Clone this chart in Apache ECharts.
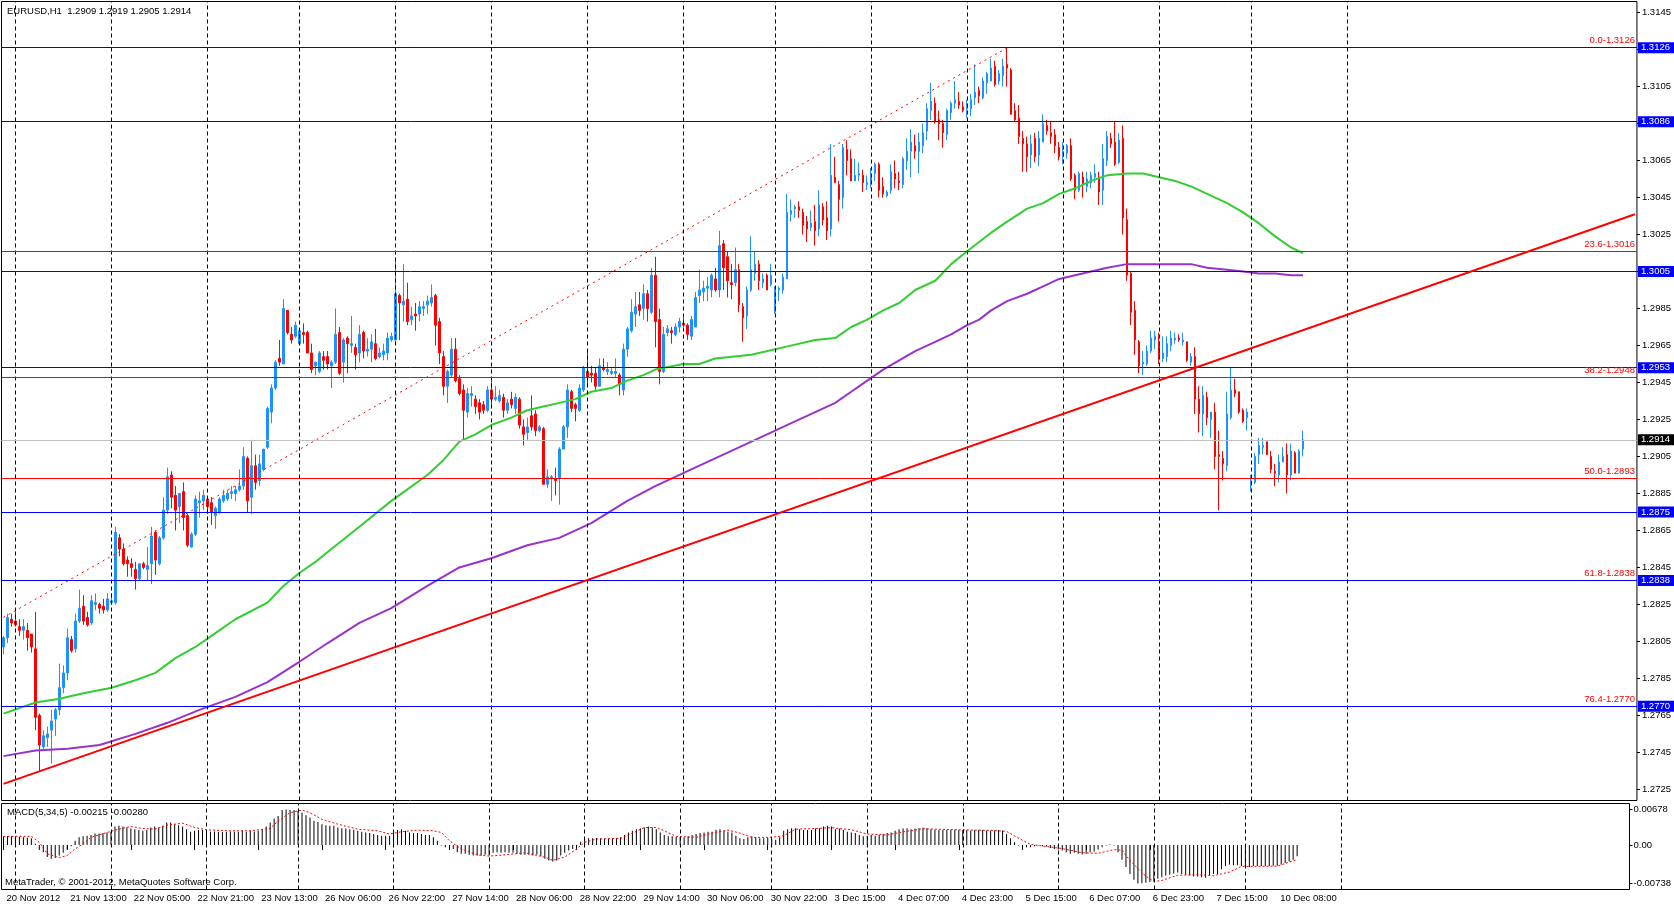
<!DOCTYPE html>
<html>
<head>
<meta charset="utf-8">
<title>EURUSD,H1</title>
<script src="https://cdn.jsdelivr.net/npm/echarts/dist/echarts.min.js"></script>
<style>
  html, body { margin: 0; padding: 0; background: #fff; }
  #chart { width: 1674px; height: 906px; }
</style>
</head>
<body>
<div id="chart"></div>
<script>
// trading days shown on the chart: [day, first hour, last hour]
var days = [
  ['20 Nov', 21, 23], ['21 Nov', 0, 23], ['22 Nov', 0, 23], ['23 Nov', 0, 22],
  ['26 Nov', 0, 23], ['27 Nov', 0, 23], ['28 Nov', 0, 23], ['29 Nov', 0, 23], ['30 Nov', 0, 22],
  ['3 Dec', 0, 23], ['4 Dec', 0, 23], ['5 Dec', 0, 23], ['6 Dec', 0, 23], ['7 Dec', 0, 22],
  ['10 Dec', 0, 23], ['11 Dec', 0, 23], ['12 Dec', 0, 23], ['13 Dec', 0, 23], ['14 Dec', 0, 0]
];
var lastGridDay = '11 Dec';
var firstLabel = '20 Nov 2012';

// hourly bars: [open, high, low, close]
var ohlc = [
  [1.2802,1.2808,1.2798,1.2807],[1.2807,1.2820,1.2804,1.2818],[1.2817,1.2820,1.2813,1.2815],[1.2816,1.2821,1.2813,1.2814],
  [1.2813,1.2817,1.2808,1.2811],[1.2811,1.2817,1.2806,1.2813],[1.2811,1.2815,1.2800,1.2807],[1.2809,1.2809,1.2799,1.2802],
  [1.2801,1.2821,1.2757,1.2764],[1.2765,1.2766,1.2735,1.2749],[1.2748,1.2757,1.2746,1.2754],[1.2753,1.2759,1.2748,1.2755],
  [1.2757,1.2768,1.2739,1.2762],[1.2763,1.2769,1.2754,1.2768],[1.2768,1.2793,1.2765,1.2780],[1.2780,1.2792,1.2777,1.2788],
  [1.2788,1.2812,1.2784,1.2807],[1.2806,1.2808,1.2799,1.2800],[1.2801,1.2820,1.2799,1.2816],[1.2816,1.2833,1.2815,1.2823],
  [1.2824,1.2830,1.2814,1.2816],[1.2818,1.2821,1.2813,1.2814],[1.2815,1.2830,1.2814,1.2827],[1.2825,1.2831,1.2822,1.2826],
  [1.2825,1.2826,1.2820,1.2823],[1.2824,1.2828,1.2820,1.2822],[1.2822,1.2831,1.2821,1.2828],[1.2826,1.2831,1.2825,1.2827],
  [1.2826,1.2867,1.2825,1.2864],[1.2861,1.2863,1.2851,1.2855],[1.2855,1.2858,1.2846,1.2847],[1.2849,1.2851,1.2840,1.2847],
  [1.2847,1.2850,1.2840,1.2845],[1.2844,1.2848,1.2833,1.2839],[1.2839,1.2847,1.2838,1.2847],[1.2847,1.2848,1.2844,1.2845],
  [1.2844,1.2856,1.2838,1.2846],[1.2847,1.2867,1.2836,1.2862],[1.2864,1.2865,1.2841,1.2849],[1.2847,1.2862,1.2846,1.2861],
  [1.2861,1.2883,1.2860,1.2876],[1.2876,1.2899,1.2874,1.2894],[1.2895,1.2897,1.2877,1.2883],[1.2884,1.2889,1.2865,1.2876],
  [1.2878,1.2885,1.2869,1.2885],[1.2886,1.2891,1.2865,1.2872],[1.2873,1.2874,1.2856,1.2857],[1.2856,1.2864,1.2856,1.2863],
  [1.2863,1.2884,1.2862,1.2882],[1.2880,1.2886,1.2872,1.2881],[1.2881,1.2887,1.2876,1.2884],[1.2882,1.2883,1.2874,1.2878],
  [1.2880,1.2883,1.2868,1.2875],[1.2873,1.2878,1.2866,1.2877],[1.2875,1.2883,1.2874,1.2882],[1.2881,1.2887,1.2880,1.2884],
  [1.2882,1.2887,1.2881,1.2885],[1.2885,1.2889,1.2882,1.2886],[1.2885,1.2889,1.2881,1.2887],[1.2887,1.2898,1.2886,1.2889],
  [1.2889,1.2910,1.2887,1.2905],[1.2904,1.2905,1.2875,1.2881],[1.2883,1.2914,1.2874,1.2900],[1.2900,1.2906,1.2887,1.2891],
  [1.2892,1.2906,1.2889,1.2901],[1.2898,1.2909,1.2897,1.2909],[1.2910,1.2932,1.2909,1.2931],[1.2929,1.2944,1.2923,1.2942],
  [1.2942,1.2957,1.2941,1.2956],[1.2958,1.2968,1.2954,1.2956],[1.2955,1.2990,1.2955,1.2985],[1.2984,1.2984,1.2971,1.2972],
  [1.2971,1.2975,1.2966,1.2968],[1.2970,1.2978,1.2969,1.2976],[1.2966,1.2973,1.2965,1.2973],[1.2972,1.2977,1.2966,1.2971],
  [1.2972,1.2973,1.2961,1.2961],[1.2961,1.2966,1.2950,1.2952],[1.2954,1.2956,1.2949,1.2956],[1.2951,1.2962,1.2950,1.2961],
  [1.2959,1.2962,1.2952,1.2957],[1.2959,1.2962,1.2952,1.2955],
  [1.2954,1.2957,1.2942,1.2956],[1.2956,1.2985,1.2955,1.2971],[1.2972,1.2975,1.2949,1.2950],[1.2956,1.2969,1.2945,1.2968],
  [1.2969,1.2970,1.2950,1.2966],[1.2965,1.2981,1.2961,1.2966],[1.2964,1.2966,1.2952,1.2960],[1.2961,1.2976,1.2956,1.2971],
  [1.2972,1.2973,1.2958,1.2962],[1.2962,1.2969,1.2959,1.2963],[1.2963,1.2971,1.2956,1.2967],[1.2966,1.2974,1.2957,1.2958],
  [1.2959,1.2964,1.2958,1.2961],[1.2960,1.2966,1.2957,1.2962],[1.2961,1.2972,1.2957,1.2969],[1.2968,1.2972,1.2967,1.2970],
  [1.2968,1.3011,1.2967,1.2993],[1.2992,1.2993,1.2968,1.2988],[1.2987,1.3009,1.2978,1.2989],[1.2990,1.2999,1.2976,1.2978],
  [1.2979,1.2986,1.2976,1.2981],[1.2982,1.2988,1.2973,1.2981],[1.2982,1.2989,1.2978,1.2986],[1.2985,1.2989,1.2981,1.2986],
  [1.2987,1.2992,1.2982,1.2989],[1.2988,1.2998,1.2986,1.2991],[1.2992,1.2993,1.2965,1.2976],[1.2978,1.2980,1.2955,1.2961],
  [1.2959,1.2962,1.2938,1.2943],[1.2943,1.2952,1.2934,1.2951],[1.2949,1.2969,1.2948,1.2963],[1.2963,1.2969,1.2945,1.2946],
  [1.2947,1.2949,1.2938,1.2939],[1.2941,1.2944,1.2914,1.2930],[1.2929,1.2942,1.2926,1.2939],[1.2938,1.2943,1.2932,1.2939],
  [1.2936,1.2938,1.2928,1.2932],[1.2934,1.2936,1.2925,1.2929],[1.2933,1.2935,1.2928,1.2930],[1.2930,1.2943,1.2929,1.2941],
  [1.2941,1.2947,1.2933,1.2936],[1.2936,1.2943,1.2935,1.2937],[1.2935,1.2941,1.2934,1.2938],[1.2937,1.2939,1.2926,1.2930],
  [1.2930,1.2936,1.2928,1.2934],[1.2936,1.2940,1.2931,1.2933],[1.2931,1.2939,1.2928,1.2937],[1.2936,1.2937,1.2920,1.2922],
  [1.2921,1.2925,1.2911,1.2917],[1.2918,1.2926,1.2914,1.2921],[1.2927,1.2938,1.2919,1.2921],[1.2928,1.2930,1.2916,1.2919],
  [1.2919,1.2922,1.2918,1.2921],[1.2920,1.2921,1.2890,1.2890],[1.2890,1.2898,1.2888,1.2894],[1.2893,1.2895,1.2881,1.2894],
  [1.2893,1.2899,1.2884,1.2892],[1.2893,1.2910,1.2879,1.2909],[1.2909,1.2922,1.2909,1.2921],[1.2921,1.2944,1.2915,1.2941],
  [1.2940,1.2941,1.2929,1.2931],[1.2933,1.2934,1.2924,1.2931],[1.2930,1.2944,1.2929,1.2942],[1.2941,1.2954,1.2940,1.2953],
  [1.2951,1.2962,1.2944,1.2948],[1.2950,1.2954,1.2945,1.2949],[1.2950,1.2953,1.2941,1.2943],[1.2943,1.2958,1.2943,1.2954],
  [1.2953,1.2958,1.2951,1.2952],[1.2951,1.2956,1.2949,1.2952],[1.2950,1.2953,1.2949,1.2951],[1.2950,1.2958,1.2948,1.2951],
  [1.2949,1.2950,1.2938,1.2944],[1.2941,1.2966,1.2938,1.2963],[1.2963,1.2975,1.2959,1.2974],[1.2973,1.2990,1.2972,1.2983],
  [1.2982,1.2994,1.2975,1.2986],[1.2987,1.2994,1.2981,1.2984],[1.2985,1.2998,1.2979,1.2993],[1.2993,1.2995,1.2978,1.2985],
  [1.2983,1.3007,1.2982,1.3003],[1.3003,1.3013,1.2964,1.2978],
  [1.2979,1.2985,1.2944,1.2951],[1.2951,1.2975,1.2950,1.2971],[1.2972,1.2976,1.2970,1.2974],[1.2973,1.2975,1.2966,1.2972],
  [1.2971,1.2977,1.2970,1.2975],[1.2975,1.2980,1.2972,1.2978],[1.2977,1.2980,1.2975,1.2976],[1.2976,1.2977,1.2968,1.2971],
  [1.2970,1.2981,1.2968,1.2979],[1.2975,1.2994,1.2975,1.2991],[1.2992,1.3006,1.2988,1.2995],[1.2994,1.3000,1.2989,1.2996],
  [1.2996,1.3002,1.2989,1.2997],[1.2995,1.3004,1.2991,1.3003],[1.3001,1.3007,1.2994,1.2995],[1.2995,1.3027,1.2991,1.3019],
  [1.3020,1.3022,1.2995,1.3007],[1.3013,1.3016,1.2991,1.3000],[1.2999,1.3009,1.2990,1.2998],[1.2999,1.3018,1.2997,1.3006],
  [1.3006,1.3009,1.2983,1.2987],[1.2986,1.2988,1.2967,1.2980],[1.2981,1.2997,1.2974,1.2995],[1.2995,1.3024,1.2994,1.3006],
  [1.3004,1.3016,1.3000,1.3009],[1.3009,1.3011,1.2995,1.3000],[1.2999,1.3004,1.2996,1.3001],[1.3003,1.3004,1.2995,1.2995],
  [1.2998,1.3009,1.2997,1.3003],[1.2983,1.2997,1.2982,1.2996],[1.2995,1.2997,1.2989,1.2996],[1.2995,1.3004,1.2993,1.3002],
  [1.3001,1.3047,1.3001,1.3037],[1.3036,1.3044,1.3032,1.3038],[1.3039,1.3041,1.3034,1.3040],[1.3040,1.3043,1.3034,1.3038],
  [1.3037,1.3039,1.3025,1.3030],[1.3032,1.3035,1.3021,1.3028],[1.3029,1.3038,1.3027,1.3031],[1.3032,1.3041,1.3019,1.3027],
  [1.3028,1.3049,1.3024,1.3041],[1.3040,1.3042,1.3030,1.3033],[1.3034,1.3043,1.3022,1.3027],[1.3028,1.3074,1.3024,1.3057],
  [1.3056,1.3067,1.3053,1.3053],[1.3052,1.3054,1.3032,1.3044],[1.3045,1.3074,1.3039,1.3072],[1.3071,1.3076,1.3057,1.3065],
  [1.3066,1.3071,1.3054,1.3054],[1.3054,1.3066,1.3054,1.3057],[1.3057,1.3064,1.3054,1.3058],[1.3057,1.3060,1.3048,1.3053],
  [1.3052,1.3057,1.3049,1.3053],[1.3053,1.3061,1.3050,1.3057],[1.3058,1.3064,1.3054,1.3063],[1.3063,1.3064,1.3045,1.3049],
  [1.3051,1.3056,1.3045,1.3047],[1.3046,1.3049,1.3045,1.3048],[1.3049,1.3063,1.3047,1.3059],[1.3058,1.3065,1.3050,1.3055],
  [1.3054,1.3059,1.3049,1.3053],[1.3052,1.3067,1.3050,1.3066],[1.3065,1.3077,1.3060,1.3070],[1.3070,1.3082,1.3056,1.3075],
  [1.3073,1.3079,1.3066,1.3070],[1.3070,1.3080,1.3058,1.3075],[1.3073,1.3085,1.3069,1.3080],[1.3081,1.3096,1.3076,1.3093],
  [1.3092,1.3107,1.3087,1.3097],[1.3096,1.3099,1.3085,1.3086],[1.3087,1.3092,1.3076,1.3085],[1.3085,1.3087,1.3072,1.3080],
  [1.3079,1.3093,1.3076,1.3092],[1.3091,1.3097,1.3087,1.3096],[1.3096,1.3108,1.3093,1.3098],[1.3097,1.3102,1.3093,1.3095],
  [1.3094,1.3097,1.3091,1.3092],[1.3093,1.3098,1.3088,1.3094],[1.3093,1.3101,1.3089,1.3098],[1.3099,1.3117,1.3095,1.3102],
  [1.3103,1.3105,1.3096,1.3100],
  [1.3099,1.3110,1.3098,1.3108],[1.3107,1.3113,1.3101,1.3112],[1.3108,1.3120,1.3108,1.3115],[1.3116,1.3119,1.3105,1.3106],
  [1.3108,1.3114,1.3106,1.3112],[1.3111,1.3120,1.3105,1.3116],[1.3117,1.3126,1.3105,1.3115],[1.3114,1.3115,1.3090,1.3090],
  [1.3092,1.3096,1.3086,1.3087],[1.3088,1.3095,1.3074,1.3078],[1.3077,1.3081,1.3059,1.3074],[1.3074,1.3078,1.3059,1.3067],
  [1.3068,1.3079,1.3061,1.3074],[1.3077,1.3080,1.3064,1.3067],[1.3068,1.3081,1.3062,1.3077],[1.3075,1.3090,1.3075,1.3085],
  [1.3084,1.3087,1.3079,1.3081],[1.3080,1.3086,1.3074,1.3078],[1.3079,1.3082,1.3069,1.3073],[1.3072,1.3075,1.3065,1.3067],
  [1.3067,1.3075,1.3063,1.3070],[1.3069,1.3074,1.3066,1.3073],[1.3073,1.3077,1.3054,1.3055],[1.3057,1.3058,1.3044,1.3049],
  [1.3049,1.3059,1.3048,1.3058],[1.3056,1.3059,1.3045,1.3052],[1.3051,1.3059,1.3048,1.3055],[1.3053,1.3059,1.3050,1.3057],
  [1.3056,1.3063,1.3053,1.3058],[1.3056,1.3059,1.3041,1.3048],[1.3049,1.3074,1.3041,1.3066],[1.3065,1.3081,1.3062,1.3078],
  [1.3077,1.3080,1.3072,1.3074],[1.3075,1.3086,1.3062,1.3063],[1.3064,1.3080,1.3063,1.3076],[1.3077,1.3084,1.3025,1.3034],
  [1.3033,1.3039,1.3000,1.3003],[1.3004,1.3005,1.2976,1.2983],[1.2984,1.2989,1.2960,1.2968],[1.2967,1.2968,1.2950,1.2954],
  [1.2955,1.2962,1.2949,1.2956],[1.2955,1.2965,1.2954,1.2962],[1.2962,1.2973,1.2961,1.2969],[1.2968,1.2973,1.2963,1.2970],
  [1.2967,1.2972,1.2955,1.2959],[1.2958,1.2970,1.2956,1.2961],[1.2959,1.2970,1.2956,1.2966],[1.2965,1.2973,1.2962,1.2969],
  [1.2968,1.2972,1.2966,1.2969],[1.2969,1.2971,1.2967,1.2968],[1.2967,1.2972,1.2965,1.2968],[1.2967,1.2967,1.2956,1.2957],
  [1.2956,1.2961,1.2954,1.2959],[1.2959,1.2964,1.2928,1.2936],[1.2936,1.2943,1.2918,1.2928],[1.2928,1.2943,1.2916,1.2938],
  [1.2937,1.2940,1.2922,1.2926],[1.2925,1.2929,1.2915,1.2929],[1.2929,1.2934,1.2898,1.2905],[1.2906,1.2919,1.2876,1.2905],
  [1.2904,1.2908,1.2892,1.2901],[1.2900,1.2940,1.2897,1.2928],[1.2926,1.2953,1.2925,1.2941],[1.2941,1.2947,1.2937,1.2939],
  [1.2940,1.2940,1.2928,1.2929],[1.2930,1.2931,1.2923,1.2924],[1.2926,1.2931,1.2919,1.2929],[1.2890,1.2895,1.2886,1.2892],
  [1.2891,1.2907,1.2890,1.2905],[1.2906,1.2915,1.2901,1.2911],[1.2910,1.2915,1.2906,1.2911],[1.2913,1.2913,1.2906,1.2906],
  [1.2905,1.2908,1.2896,1.2898],[1.2897,1.2901,1.2889,1.2896],[1.2895,1.2906,1.2891,1.2902],[1.2902,1.2910,1.2902,1.2905],
  [1.2906,1.2912,1.2885,1.2895],[1.2895,1.2912,1.2892,1.2908],[1.2907,1.2908,1.2896,1.2896],[1.2896,1.2909,1.2896,1.2908],
  [1.2909,1.2919,1.2905,1.2914]
];

// moving averages: [bar index, value]
var maGreen = [
  [0,1.2766],[8,1.2772],[14,1.2774],[20,1.2777],[27,1.2780],[33,1.2784],[38,1.2788],[43,1.2796],[48,1.2802],
  [52,1.2808],[58,1.2817],[66,1.2826],[70,1.2835],[74,1.2842],[78,1.2848],[82,1.2855],[89,1.2867],[97,1.2881],
  [106,1.2895],[110,1.2903],[114,1.2913],[118,1.2917],[122,1.2922],[127,1.2926],[131,1.2930],[135,1.2932],
  [139,1.2934],[143,1.2936],[147,1.2940],[152,1.2942],[156,1.2946],[160,1.2949],[163,1.2952],[170,1.2955],
  [174,1.2955],[178,1.2958],[187,1.2960],[195,1.2964],[203,1.2968],[208,1.2969],[212,1.2975],[216,1.2979],
  [220,1.2984],[224,1.2988],[228,1.2995],[233,1.3000],[237,1.3009],[241,1.3016],[244,1.3021],[247,1.3026],
  [251,1.3032],[256,1.3039],[260,1.3042],[264,1.3047],[268,1.3050],[272,1.3054],[276,1.3057],[281,1.3058],
  [285,1.3058],[289,1.3056],[293,1.3054],[297,1.3051],[301,1.3047],[306,1.3042],[310,1.3037],[314,1.3031],
  [318,1.3024],[322,1.3018],[325,1.3015]
];
var maPurple = [
  [0,1.2743],[8,1.2746],[16,1.2747],[24,1.2749],[33,1.2755],[41,1.2761],[49,1.2768],[58,1.2775],[66,1.2783],
  [74,1.2794],[81,1.2804],[89,1.2815],[97,1.2823],[106,1.2835],[114,1.2845],[122,1.2850],[131,1.2857],
  [139,1.2861],[147,1.2869],[156,1.2881],[163,1.2889],[172,1.2898],[180,1.2906],[188,1.2914],[197,1.2923],
  [203,1.2929],[208,1.2934],[212,1.2940],[216,1.2946],[220,1.2952],[224,1.2957],[228,1.2962],[233,1.2967],
  [237,1.2971],[241,1.2976],[244,1.2979],[247,1.2984],[251,1.2989],[256,1.2993],[260,1.2997],[264,1.3001],
  [268,1.3003],[272,1.3005],[276,1.3007],[281,1.3009],[285,1.3009],[289,1.3009],[293,1.3009],[297,1.3009],
  [301,1.3007],[306,1.3006],[310,1.3005],[314,1.3004],[318,1.3004],[322,1.3003],[325,1.3003]
];

// MACD(5,34,5) histogram, one value per bar
var macdMain = [
  0.00164,0.00170,0.00164,0.00158,0.00151,0.00145,0.00139,0.00126,
  0.00025,-0.00095,-0.00139,-0.00233,-0.00265,-0.00252,-0.00202,-0.00151,
  -0.00088,-0.00025,0.00082,0.00145,0.00164,0.00176,0.00189,0.00220,
  0.00220,0.00227,0.00239,0.00252,0.00353,0.00365,0.00353,0.00334,
  0.00315,0.00302,0.00284,0.00271,0.00284,0.00334,0.00353,0.00334,
  0.00365,0.00428,0.00428,0.00397,0.00378,0.00353,0.00302,0.00252,
  0.00271,0.00284,0.00284,0.00271,0.00252,0.00258,0.00252,0.00246,
  0.00252,0.00258,0.00252,0.00252,0.00271,0.00252,0.00271,0.00258,
  0.00271,0.00302,0.00353,0.00428,0.00504,0.00554,0.00668,0.00678,
  0.00668,0.00668,0.00649,0.00617,0.00567,0.00523,0.00460,0.00441,
  0.00397,0.00378,0.00365,0.00365,0.00334,0.00321,0.00315,0.00302,
  0.00290,0.00271,0.00252,0.00239,0.00227,0.00208,0.00189,0.00176,
  0.00176,0.00176,0.00271,0.00284,0.00302,0.00271,0.00239,0.00227,
  0.00227,0.00208,0.00189,0.00189,0.00145,0.00082,-0.00013,-0.00044,
  -0.00013,-0.00076,-0.00139,-0.00170,-0.00170,-0.00189,-0.00202,-0.00202,
  -0.00202,-0.00189,-0.00202,-0.00151,-0.00139,-0.00151,-0.00139,-0.00151,
  -0.00151,-0.00170,-0.00189,-0.00189,-0.00189,-0.00202,-0.00189,-0.00214,
  -0.00265,-0.00296,-0.00315,-0.00296,-0.00202,-0.00151,-0.00107,-0.00076,
  -0.00013,0.00063,0.00113,0.00126,0.00126,0.00132,0.00126,0.00120,
  0.00126,0.00132,0.00126,0.00145,0.00189,0.00239,0.00271,0.00302,
  0.00315,0.00334,0.00353,0.00334,0.00302,0.00239,0.00189,0.00164,
  0.00164,0.00151,0.00145,0.00145,0.00164,0.00189,0.00208,0.00227,
  0.00239,0.00252,0.00252,0.00290,0.00302,0.00271,0.00252,0.00239,
  0.00176,0.00126,0.00113,0.00145,0.00164,0.00145,0.00126,0.00126,
  0.00139,0.00113,0.00101,0.00145,0.00271,0.00302,0.00321,0.00321,
  0.00302,0.00284,0.00284,0.00284,0.00315,0.00321,0.00353,0.00365,
  0.00353,0.00302,0.00315,0.00284,0.00252,0.00239,0.00227,0.00189,
  0.00164,0.00176,0.00189,0.00176,0.00189,0.00208,0.00227,0.00239,
  0.00271,0.00302,0.00315,0.00321,0.00302,0.00315,0.00321,0.00328,
  0.00321,0.00302,0.00290,0.00284,0.00284,0.00284,0.00290,0.00290,
  0.00284,0.00284,0.00284,0.00277,0.00284,0.00290,0.00284,0.00277,
  0.00271,0.00277,0.00284,0.00277,0.00208,0.00126,0.00050,-0.00013,
  -0.00032,-0.00044,-0.00044,-0.00025,-0.00013,-0.00025,-0.00032,-0.00057,
  -0.00076,-0.00088,-0.00107,-0.00139,-0.00170,-0.00151,-0.00170,-0.00183,
  -0.00170,-0.00139,-0.00126,-0.00088,-0.00044,-0.00013,0.00006,-0.00013,
  -0.00139,-0.00284,-0.00424,-0.00557,-0.00666,-0.00738,-0.00735,-0.00726,
  -0.00708,-0.00690,-0.00647,-0.00617,-0.00587,-0.00569,-0.00545,-0.00526,
  -0.00557,-0.00569,-0.00587,-0.00605,-0.00605,-0.00617,-0.00629,-0.00587,
  -0.00557,-0.00557,-0.00466,-0.00405,-0.00375,-0.00387,-0.00387,-0.00405,
  -0.00424,-0.00424,-0.00405,-0.00405,-0.00405,-0.00405,-0.00405,-0.00399,
  -0.00399,-0.00375,-0.00345,-0.00315,-0.00284,-0.00215
];
// MACD signal line: [bar index, value]
var macdSignal = [
  [0,0.00164],[7,0.00164],[9,0.00050],[11,-0.00170],[14,-0.00246],[16,-0.00202],[18,-0.00076],[20,0.00019],
  [22,0.00145],[26,0.00239],[29,0.00302],[32,0.00353],[35,0.00315],[38,0.00302],[41,0.00378],[45,0.00416],
  [48,0.00334],[51,0.00290],[57,0.00271],[62,0.00271],[67,0.00315],[69,0.00460],[72,0.00617],[75,0.00668],
  [77,0.00617],[80,0.00491],[84,0.00397],[89,0.00302],[94,0.00271],[97,0.00208],[100,0.00252],[104,0.00284],
  [108,0.00271],[110,0.00239],[112,0.00082],[115,-0.00076],[119,-0.00189],[122,-0.00214],[126,-0.00189],
  [131,-0.00151],[136,-0.00233],[138,-0.00296],[141,-0.00233],[144,-0.00076],[146,0.00050],[149,0.00113],
  [155,0.00126],[157,0.00189],[161,0.00334],[164,0.00334],[166,0.00271],[169,0.00164],[174,0.00145],
  [178,0.00227],[182,0.00284],[185,0.00227],[188,0.00145],[193,0.00145],[196,0.00176],[199,0.00302],
  [204,0.00315],[208,0.00330],[213,0.00290],[217,0.00210],[222,0.00190],[226,0.00250],[231,0.00310],
  [235,0.00300],[240,0.00290],[244,0.00284],[248,0.00280],[252,0.00260],[255,0.00130],[258,0.00010],
  [262,-0.00030],[266,-0.00070],[271,-0.00150],[275,-0.00160],[279,-0.00090],[281,-0.00100],[283,-0.00300],
  [287,-0.00600],[289,-0.00700],[291,-0.00680],[295,-0.00580],[300,-0.00570],[304,-0.00590],[308,-0.00520],
  [311,-0.00410],[316,-0.00410],[320,-0.00405],[325,-0.00280]
];

// objects drawn on the chart
var blueLevels = [1.3126, 1.3086, 1.3005, 1.2953, 1.2875, 1.2838, 1.2770];
var fibLevels = [[0.0, 1.3126], [23.6, 1.3016], [38.2, 1.2948], [50.0, 1.2893], [61.8, 1.2838], [76.4, 1.2770]];
var fibLine = [[0, 1.2818], [251, 1.3126]];
var trendLine = [[0, 1.2728], [408, 1.3036]];
var bidPrice = 1.2914;

// axis labels
var priceTicks = [1.2725, 1.2745, 1.2765, 1.2785, 1.2805, 1.2825, 1.2845, 1.2865, 1.2885, 1.2905, 1.2925,
  1.2945, 1.2965, 1.2985, 1.3005, 1.3025, 1.3045, 1.3065, 1.3085, 1.3105, 1.3125, 1.3145];
var macdTicks = [0.00678, 0, -0.00738];

var FONT = 'Liberation Sans';
var FS = 9.5;

var cats = [], dayLines = [], gridOpen = true;
days.forEach(function (d) {
  for (var h = d[1]; h <= d[2]; h++) {
    var name = d[0] + ' ' + (h < 10 ? '0' : '') + h + ':00';
    if (h === 0 && gridOpen) dayLines.push({ xAxis: name });
    cats.push(name);
  }
  if (d[0] === lastGridDay) gridOpen = false;
});

var nBars = ohlc.length;
var candles = ohlc.map(function (r) { return [r[0], r[3], r[2], r[1]]; });
var last = ohlc[nBars - 1];
var header = 'EURUSD,H1  ' + last.map(function (v) { return v.toFixed(4); }).join(' ');
var macdHeader = 'MACD(5,34,5) ' + macdMain[nBars - 1].toFixed(5) + ' ' +
  macdSignal[macdSignal.length - 1][1].toFixed(5);

var dayMark = {
  silent: true, symbol: 'none', animation: false,
  label: { show: false },
  lineStyle: { color: '#000', width: 1, type: [4, 3] },
  data: dayLines
};

var levelMarks = [];
fibLevels.forEach(function (f) {
  levelMarks.push({
    yAxis: f[1],
    lineStyle: { color: '#ff0000', width: 1, type: 'solid' },
    label: { show: true, position: 'insideEndTop', distance: 2, formatter: f[0].toFixed(1) + '-' + f[1].toFixed(4),
      color: '#ff0000', fontSize: FS, fontFamily: FONT }
  });
});
blueLevels.forEach(function (p) {
  levelMarks.push({
    yAxis: p,
    lineStyle: { color: '#0000ff', width: 1, type: 'solid' },
    label: { show: true, position: 'end', distance: 1, formatter: p.toFixed(4), color: '#fff',
      backgroundColor: '#0000ff', padding: [1, 4, 0, 3], fontSize: FS, fontFamily: FONT }
  });
});
levelMarks.push({
  yAxis: bidPrice,
  lineStyle: { color: '#c0c0c0', width: 1, type: 'solid' },
  label: { show: true, position: 'end', distance: 1, formatter: bidPrice.toFixed(4), color: '#fff',
    backgroundColor: '#000', padding: [1, 4, 0, 3], fontSize: FS, fontFamily: FONT }
});

var textStyle = { fontSize: FS, fontWeight: 'normal', color: '#000', fontFamily: FONT };

var chart = echarts.init(document.getElementById('chart'));
chart.setOption({
  animation: false,
  backgroundColor: '#fff',
  title: [
    { text: header, left: 7, top: 6, padding: 0, textStyle: textStyle },
    { text: macdHeader, left: 7, top: 807, padding: 0, textStyle: textStyle },
    { text: 'MetaTrader, © 2001-2012, MetaQuotes Software Corp.', left: 5, top: 877, padding: 0, textStyle: textStyle }
  ],
  grid: [
    { left: 1.5, top: 1.5, width: 1636, height: 799, show: true, borderColor: '#000', borderWidth: 1, backgroundColor: 'transparent' },
    { left: 1.5, top: 803.5, width: 1636, height: 86, show: true, borderColor: '#000', borderWidth: 1, backgroundColor: 'transparent' }
  ],
  xAxis: [
    { type: 'category', gridIndex: 0, data: cats, boundaryGap: true, show: false },
    {
      type: 'category', gridIndex: 1, data: cats, boundaryGap: true,
      axisLine: { show: false },
      axisTick: {
        show: true, alignWithLabel: true, length: 5, lineStyle: { color: '#000' },
        interval: function (i) { return i % 16 === 0 && i < nBars; }
      },
      axisLabel: {
        show: true, align: 'left', margin: 4, padding: [0, 0, 0, 3], color: '#000', fontSize: FS, fontFamily: FONT,
        interval: function (i) { return i % 16 === 0 && i < nBars; },
        formatter: function (v, i) { return i === 0 ? firstLabel : v; }
      },
      splitLine: { show: false }
    }
  ],
  yAxis: [
    {
      type: 'value', gridIndex: 0, position: 'right', min: 1.2719, max: 1.3151, scale: true,
      axisLine: { show: false },
      axisTick: { show: true, length: 3, lineStyle: { color: '#000' }, customValues: priceTicks },
      axisLabel: { show: true, margin: 5, color: '#000', fontSize: FS, fontFamily: FONT, customValues: priceTicks,
        formatter: function (v) { return v.toFixed(4); } },
      splitLine: { show: false }
    },
    {
      type: 'value', gridIndex: 1, position: 'right', min: -0.00853, max: 0.00793,
      axisLine: { show: false },
      axisTick: { show: true, length: 3, lineStyle: { color: '#000' }, customValues: macdTicks },
      axisLabel: { show: true, margin: 4, color: '#000', fontSize: FS, fontFamily: FONT, customValues: macdTicks,
        formatter: function (v) { return Math.abs(v) < 1e-9 ? '0.00' : v.toFixed(5); } },
      splitLine: { show: false }
    }
  ],
  series: [
    {
      name: 'EURUSD', type: 'candlestick', xAxisIndex: 0, yAxisIndex: 0, data: candles, barWidth: 2,
      itemStyle: { color: '#1e90ff', color0: '#ff0000', borderColor: '#1e90ff', borderColor0: '#ff0000', borderWidth: 1 },
      markLine: dayMark, z: 2
    },
    {
      name: 'MA green', type: 'line', xAxisIndex: 0, yAxisIndex: 0, data: maGreen, symbol: 'none',
      lineStyle: { color: '#32cd32', width: 2 }, z: 3
    },
    {
      name: 'MA purple', type: 'line', xAxisIndex: 0, yAxisIndex: 0, data: maPurple, symbol: 'none',
      lineStyle: { color: '#9932cc', width: 2 }, z: 3
    },
    {
      name: 'Fibo', type: 'line', xAxisIndex: 0, yAxisIndex: 0, data: fibLine, symbol: 'none',
      lineStyle: { color: '#ff0000', width: 1, type: [2, 4] }, z: 4
    },
    {
      name: 'Trendline', type: 'line', xAxisIndex: 0, yAxisIndex: 0, data: trendLine, symbol: 'none',
      lineStyle: { color: '#ff0000', width: 2 }, z: 5,
      markLine: { silent: true, symbol: 'none', animation: false, precision: 4, data: levelMarks }
    },
    {
      name: 'MACD', type: 'bar', xAxisIndex: 1, yAxisIndex: 1, data: macdMain, barWidth: 1,
      itemStyle: { color: '#000' }, markLine: dayMark
    },
    {
      name: 'Signal', type: 'line', xAxisIndex: 1, yAxisIndex: 1, data: macdSignal, symbol: 'none',
      lineStyle: { color: '#ff0000', width: 1, type: [2, 2] }, z: 4
    }
  ]
});
</script>
</body>
</html>
